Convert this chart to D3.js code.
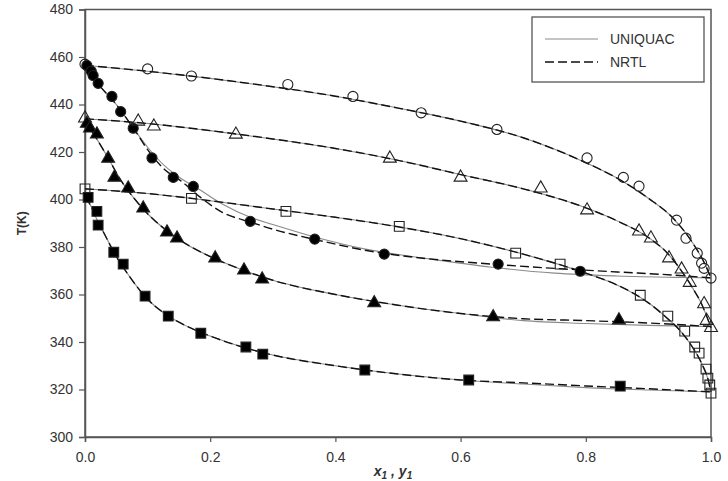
<!DOCTYPE html>
<html>
<head>
<meta charset="utf-8">
<script src="https://cdn.jsdelivr.net/npm/d3@7"></script>
<style>
    body { margin: 0; background: #fff; }
    text { font-family: "Liberation Sans", Arial, sans-serif; fill: #333; }
</style>
</head>
<body>
<div id="chart"></div>
<script>
    // ---- data ----
    const xTicks = [0.0, 0.2, 0.4, 0.6, 0.8, 1.0];
    const yTicks = [300, 320, 340, 360, 380, 400, 420, 440, 460, 480];

    // experimental points [x1 or y1, T(K)]
    const openCircles = [[0, 457], [0.1, 455], [0.17, 452], [0.324, 448.4], [0.428, 443.4], [0.537, 436.5],
        [0.658, 429.5], [0.802, 417.5], [0.86, 409.3], [0.885, 405.6], [0.945, 391.3], [0.96, 383.7],
        [0.978, 377.4], [0.985, 373.2], [0.989, 371], [1.0, 366.9]];
    const filledCircles = [[0.003, 456.4], [0.01, 454], [0.013, 452.2], [0.021, 448.9], [0.043, 443.4],
        [0.057, 437], [0.077, 430], [0.107, 417.5], [0.141, 409.3], [0.173, 405.5], [0.264, 390.8],
        [0.367, 383.3], [0.478, 377], [0.66, 372.8], [0.791, 369.8]];
    const openTriangles = [[0, 434.2], [0.085, 432.9], [0.11, 430.8], [0.241, 427.4], [0.487, 417.3],
        [0.6, 409.3], [0.728, 404.7], [0.802, 395.5], [0.885, 386.6], [0.904, 383.7], [0.933, 375.3],
        [0.953, 370.6], [0.966, 365], [0.989, 356], [0.993, 349], [1.0, 346]];
    const filledTriangles = [[0.003, 432], [0.008, 430], [0.019, 427.5], [0.037, 417.3], [0.047, 409.3],
        [0.069, 404.7], [0.093, 396.3], [0.131, 386.2], [0.147, 383.7], [0.208, 375.3], [0.254, 370.2],
        [0.283, 366.4], [0.462, 356.4], [0.652, 350.5], [0.853, 349.2]];
    const openSquares = [[0, 404.5], [0.17, 400.5], [0.321, 395], [0.502, 388.7], [0.688, 377.4],
        [0.759, 372.8], [0.887, 359.7], [0.931, 350.9], [0.958, 344.6], [0.974, 337.9], [0.981, 335.3],
        [0.992, 328.6], [0.995, 324.8], [0.998, 321.9], [1.0, 318.5]];
    const filledSquares = [[0.005, 400.9], [0.019, 395], [0.021, 389.2], [0.046, 377.8], [0.061, 372.8],
        [0.096, 359.3], [0.133, 350.9], [0.185, 343.7], [0.257, 337.9], [0.284, 334.9], [0.447, 328.2],
        [0.613, 324], [0.855, 321.4]];

    // model curves
    const uniquacCurves = [
        [[0, 456.5], [0.1, 454], [0.2, 451], [0.3, 447.5], [0.4, 443.5], [0.5, 438.5], [0.6, 433], [0.7, 426],
         [0.8, 415.5], [0.85, 409], [0.9, 400.5], [0.94, 392], [0.97, 382], [0.99, 373], [1.0, 367]],
        [[0, 456.5], [0.02, 449], [0.05, 440], [0.08, 429], [0.1, 422], [0.13, 413.5], [0.15, 409.5],
         [0.184, 404], [0.22, 398], [0.264, 392.5], [0.3, 389.5], [0.37, 384], [0.45, 379], [0.55, 375],
         [0.65, 371.5], [0.75, 369], [0.85, 367.8], [0.95, 367.2], [1.0, 367]],
        [[0, 434], [0.1, 432], [0.2, 429], [0.3, 425.5], [0.4, 421.5], [0.5, 416.5], [0.6, 410.5], [0.7, 404.5],
         [0.8, 396.5], [0.85, 391], [0.9, 384], [0.93, 377.5], [0.95, 371], [0.97, 363], [0.985, 356], [1.0, 346]],
        [[0, 433], [0.01, 429], [0.02, 425], [0.04, 416], [0.06, 407], [0.08, 400], [0.1, 394], [0.13, 387],
         [0.16, 381.5], [0.2, 376], [0.25, 370.5], [0.3, 366], [0.4, 360], [0.5, 355.5], [0.6, 352], [0.7, 349],
         [0.8, 347.8], [0.9, 347], [1.0, 346.5]],
        [[0, 404.5], [0.1, 402.5], [0.2, 399.5], [0.3, 396], [0.4, 392.5], [0.5, 388.5], [0.6, 383.5], [0.7, 377],
         [0.8, 369], [0.85, 364], [0.9, 356.5], [0.93, 350], [0.95, 345], [0.97, 338], [0.985, 331],
         [0.995, 324.5], [1.0, 319]],
        [[0, 401], [0.01, 397], [0.02, 391], [0.03, 386], [0.05, 376], [0.07, 368], [0.1, 358], [0.13, 351.5],
         [0.16, 347], [0.2, 342.5], [0.25, 338], [0.3, 334.5], [0.4, 330], [0.5, 326.5], [0.6, 324], [0.7, 322.3],
         [0.8, 320.8], [0.9, 319.8], [1.0, 319]]
    ];
    const nrtlCurves = [
        uniquacCurves[0],
        [[0, 456.5], [0.02, 449], [0.05, 440], [0.08, 429], [0.1, 421], [0.13, 412], [0.15, 408.5],
         [0.184, 401], [0.22, 394.5], [0.264, 390.5], [0.3, 387.5], [0.37, 383], [0.45, 378.5], [0.55, 375],
         [0.65, 372.8], [0.75, 371], [0.85, 369.5], [0.95, 368], [1.0, 367]],
        uniquacCurves[2],
        [[0, 433], [0.01, 429], [0.02, 425], [0.04, 416], [0.06, 407], [0.08, 400], [0.1, 394], [0.13, 387],
         [0.16, 381.5], [0.2, 376], [0.25, 370.5], [0.3, 366], [0.4, 360], [0.5, 355.5], [0.6, 352], [0.7, 349.8],
         [0.8, 349], [0.9, 348], [1.0, 346.5]],
        uniquacCurves[4],
        [[0, 401], [0.01, 397], [0.02, 391], [0.03, 386], [0.05, 376], [0.07, 368], [0.1, 358], [0.13, 351.5],
         [0.16, 347], [0.2, 342.5], [0.25, 338], [0.3, 334.5], [0.4, 330], [0.5, 326.5], [0.6, 324], [0.7, 322.8],
         [0.8, 321.5], [0.9, 320.3], [1.0, 319]]
    ];

    // ---- layout ----
    const W = 728, H = 481;
    const mLeft = 85, mRight = 711, mTop = 9.5, mBottom = 437;

    const x = d3.scaleLinear().domain([0, 1]).range([mLeft, mRight]);
    const y = d3.scaleLinear().domain([300, 480]).range([mBottom, mTop]);

    const svg = d3.select("#chart").append("svg")
        .attr("width", W).attr("height", H);

    // frame
    svg.append("rect")
        .attr("x", mLeft).attr("y", mTop)
        .attr("width", mRight - mLeft).attr("height", mBottom - mTop)
        .attr("fill", "none").attr("stroke", "#555").attr("stroke-width", 1.5);

    // axes
    const xAxis = d3.axisBottom(x).tickValues(xTicks).tickFormat(d3.format(".1f")).tickSizeOuter(0).tickSize(5).tickPadding(10);
    const yAxis = d3.axisLeft(y).tickValues(yTicks).tickFormat(d3.format("d")).tickSizeOuter(0).tickSize(6).tickPadding(6);

    const gx = svg.append("g").attr("transform", `translate(0,${mBottom})`).call(xAxis);
    const gy = svg.append("g").attr("transform", `translate(${mLeft},0)`).call(yAxis);
    [gx, gy].forEach(g => {
        g.select(".domain").attr("stroke", "#555").attr("stroke-width", 1.5);
        g.selectAll(".tick line").attr("stroke", "#555").attr("stroke-width", 1.2);
        g.selectAll(".tick text").attr("font-size", 14).attr("fill", "#333")
            .attr("font-family", "Liberation Sans, Arial, sans-serif");
    });

    // axis titles
    svg.append("text")
        .attr("transform", `translate(26,${(mTop + mBottom) / 2}) rotate(-90)`)
        .attr("text-anchor", "middle")
        .attr("font-size", 12).attr("font-weight", "bold")
        .text("T(K)");

    const xt = svg.append("text")
        .attr("x", 393).attr("y", 476)
        .attr("text-anchor", "middle")
        .attr("font-size", 14).attr("font-weight", "bold").attr("font-style", "italic");
    xt.append("tspan").text("x");
    xt.append("tspan").attr("font-size", 10).attr("dy", 3).text("1");
    xt.append("tspan").attr("dy", -3).text(" , y");
    xt.append("tspan").attr("font-size", 10).attr("dy", 3).text("1");

    // curves
    const line = d3.line().x(d => x(d[0])).y(d => y(d[1])).curve(d3.curveMonotoneX);
    const plot = svg.append("g");

    plot.selectAll(".uniquac").data(uniquacCurves).join("path")
        .attr("class", "uniquac")
        .attr("d", line).attr("fill", "none")
        .attr("stroke", "#8a8a8a").attr("stroke-width", 1.1);

    plot.selectAll(".nrtl").data(nrtlCurves).join("path")
        .attr("class", "nrtl")
        .attr("d", line).attr("fill", "none")
        .attr("stroke", "#111").attr("stroke-width", 1.4)
        .attr("stroke-dasharray", "9,4");

    // markers
    const series = [
        { data: openCircles, type: d3.symbolCircle, fill: "#fff" },
        { data: filledCircles, type: d3.symbolCircle, fill: "#000" },
        { data: openTriangles, type: d3.symbolTriangle, fill: "#fff" },
        { data: filledTriangles, type: d3.symbolTriangle, fill: "#000" },
        { data: openSquares, type: d3.symbolSquare, fill: "#fff" },
        { data: filledSquares, type: d3.symbolSquare, fill: "#000" }
    ];
    const sizes = new Map([[d3.symbolCircle, 80], [d3.symbolTriangle, 72], [d3.symbolSquare, 95]]);

    series.forEach(s => {
        const sym = d3.symbol().type(s.type).size(sizes.get(s.type));
        plot.append("g").selectAll("path").data(s.data).join("path")
            .attr("transform", d => `translate(${x(d[0])},${y(d[1])})`)
            .attr("d", sym)
            .attr("fill", s.fill)
            .attr("fill-opacity", s.fill === "#fff" ? 0 : 1)
            .attr("stroke", "#222").attr("stroke-width", 1.1);
    });

    // legend
    const lg = svg.append("g");
    lg.append("rect")
        .attr("x", 532).attr("y", 17).attr("width", 172).attr("height", 65)
        .attr("fill", "#fff").attr("stroke", "#555").attr("stroke-width", 1.3);
    const legendItems = [
        { label: "UNIQUAC", stroke: "#8a8a8a", width: 1.1, dash: null },
        { label: "NRTL", stroke: "#111", width: 1.6, dash: "9,4" }
    ];
    legendItems.forEach((d, i) => {
        const ly = 39 + i * 23;
        lg.append("line")
            .attr("x1", 545).attr("x2", 598).attr("y1", ly).attr("y2", ly)
            .attr("stroke", d.stroke).attr("stroke-width", d.width)
            .attr("stroke-dasharray", d.dash);
        lg.append("text")
            .attr("x", 610).attr("y", ly + 5)
            .attr("font-size", 14)
            .text(d.label);
    });
</script>
</body>
</html>
